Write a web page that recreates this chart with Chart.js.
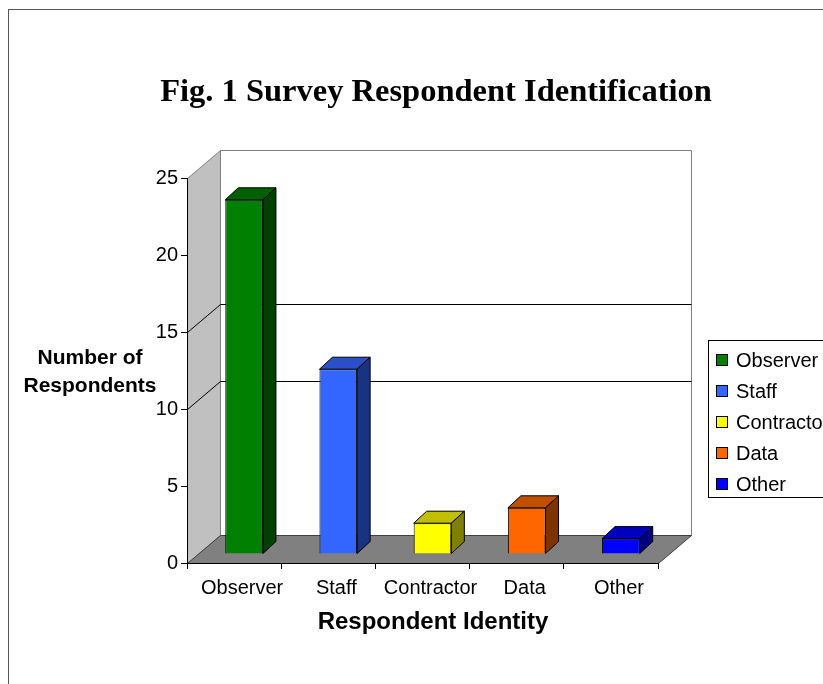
<!DOCTYPE html>
<html>
<head>
<meta charset="utf-8">
<script src="https://cdn.jsdelivr.net/npm/chart.js@4.4.1/dist/chart.umd.min.js"></script>
<style>
    html, body { margin: 0; padding: 0; background: #fff; overflow: hidden; width: 823px; height: 684px; }
    #frame { position: absolute; left: 8px; top: 9px; width: 900px; height: 720px; border: 1px solid #555; }
    #chart { position: absolute; left: 0; top: 0; }
</style>
</head>
<body>
<div id="frame"></div>
<canvas id="chart" width="872" height="684"></canvas>
<script>
// Chart data
const categories = ['Observer', 'Staff', 'Contractor', 'Data', 'Other'];
const respondents = [23, 12, 2, 3, 1];
const yTickStep = 5;
const yMax = 25;
const wallGridValues = [10, 15];

const chartTitle = 'Fig. 1 Survey Respondent Identification';
const xTitle = 'Respondent Identity';
const yTitleLines = ['Number of', 'Respondents'];

// Face colours for the 3D bars (front, top, side)
const frontColors = ['#008000', '#3366ff', '#ffff00', '#ff6600', '#0000ff'];
const topColors = ['#006000', '#2a4fc8', '#c0c000', '#c04f00', '#0000c0'];
const sideColors = ['#004000', '#1a3380', '#808000', '#803300', '#000080'];

const SANS = "'Liberation Sans', Arial, sans-serif";
const SERIF = "'Liberation Serif', 'Times New Roman', serif";

// depth of the whole plot box, and of each bar
const DEPTH = { dx: 33, dy: -28 };
const BAR_SHIFT = { dx: 10, dy: -9 };
const BAR_DEPTH = { dx: 13, dy: -12 };

function poly(ctx, pts, fill, stroke) {
    ctx.beginPath();
    ctx.moveTo(pts[0][0], pts[0][1]);
    for (let i = 1; i < pts.length; i++) ctx.lineTo(pts[i][0], pts[i][1]);
    ctx.closePath();
    if (fill) { ctx.fillStyle = fill; ctx.fill(); }
    if (stroke) { ctx.strokeStyle = stroke; ctx.lineWidth = 1; ctx.stroke(); }
}

/**
 * Walls, floor and bar sides that fake the Excel 3D look
 */
const threeD = {
    id: 'threeD',
    beforeDraw(chart) {
        const { ctx, chartArea: a, scales: { y } } = chart;
        const L = Math.round(a.left) + 0.5, R = Math.round(a.right) + 0.5;
        const T = Math.round(y.getPixelForValue(yMax)) + 0.5;
        const B = Math.round(y.getPixelForValue(0)) + 0.5;
        const { dx, dy } = DEPTH;
        ctx.save();
        // back wall
        poly(ctx, [[L + dx, T + dy], [R + dx, T + dy], [R + dx, B + dy], [L + dx, B + dy]], '#ffffff', '#808080');
        // side wall
        poly(ctx, [[L, B], [L, T], [L + dx, T + dy], [L + dx, B + dy]], '#c0c0c0', '#808080');
        // gridlines on the walls
        ctx.strokeStyle = '#000';
        ctx.lineWidth = 1;
        wallGridValues.forEach(v => {
            const py = Math.round(y.getPixelForValue(v)) + 0.5;
            ctx.beginPath();
            ctx.moveTo(L, py);
            ctx.lineTo(L + dx, py + dy);
            ctx.lineTo(R + dx, py + dy);
            ctx.stroke();
        });
        // floor
        poly(ctx, [[L, B], [R, B], [R + dx, B + dy], [L + dx, B + dy]], '#808080', '#404040');
        ctx.restore();
    },
    beforeDatasetsDraw(chart) {
        chart.ctx.save();
        chart.ctx.translate(BAR_SHIFT.dx, BAR_SHIFT.dy);
    },
    afterDatasetsDraw(chart) {
        const ctx = chart.ctx;
        ctx.restore();
        const meta = chart.getDatasetMeta(0);
        ctx.save();
        meta.data.forEach((bar, i) => {
            const p = bar.getProps(['x', 'y', 'base', 'width'], true);
            const l = p.x - p.width / 2 + BAR_SHIFT.dx;
            const r = p.x + p.width / 2 + BAR_SHIFT.dx;
            const t = p.y + BAR_SHIFT.dy;
            const b = p.base + BAR_SHIFT.dy;
            const { dx, dy } = BAR_DEPTH;
            poly(ctx, [[l, t], [r, t], [r + dx, t + dy], [l + dx, t + dy]], topColors[i], '#000');
            poly(ctx, [[r, t], [r + dx, t + dy], [r + dx, b + dy], [r, b]], sideColors[i], '#000');
        });
        ctx.restore();
    },
    afterDraw(chart) {
        const ctx = chart.ctx;
        ctx.save();
        ctx.fillStyle = '#000';
        ctx.textBaseline = 'middle';
        ctx.textAlign = 'center';

        // chart title (centred on the full Excel chart area, which runs past the window)
        ctx.font = 'bold 32.5px ' + SERIF;
        ctx.fillText(chartTitle, 436, 93);

        // axis titles
        ctx.font = 'bold 21px ' + SANS;
        yTitleLines.forEach((line, i) => ctx.fillText(line, 90, 358 + i * 28));
        ctx.font = 'bold 24px ' + SANS;
        ctx.fillText(xTitle, 433, 622);

        // legend box
        ctx.strokeStyle = '#000';
        ctx.lineWidth = 1;
        ctx.strokeRect(708.5, 340.5, 200, 157);
        ctx.textAlign = 'left';
        ctx.font = '20px ' + SANS;
        categories.forEach((name, i) => {
            const cy = 360 + i * 31;
            ctx.fillStyle = frontColors[i];
            ctx.fillRect(716.5, cy - 5.5, 11, 11);
            ctx.strokeRect(716.5, cy - 5.5, 11, 11);
            ctx.fillStyle = '#000';
            ctx.fillText(name, 736, cy + 1);
        });
        ctx.restore();
    }
};

Chart.defaults.font.family = SANS;
Chart.defaults.color = '#000';

new Chart(document.getElementById('chart').getContext('2d'), {
    type: 'bar',
    data: {
        labels: categories,
        datasets: [{
            label: 'Respondents',
            data: respondents,
            backgroundColor: frontColors,
            borderColor: '#000',
            borderWidth: 1,
            barPercentage: 0.4,
            categoryPercentage: 1
        }]
    },
    options: {
        responsive: false,
        animation: false,
        events: [],
        layout: { padding: { left: 127, right: 214, top: 178, bottom: 81 } },
        plugins: {
            legend: { display: false },
            tooltip: { enabled: false },
            title: { display: false }
        },
        scales: {
            x: {
                offset: true,
                grid: { offset: true, drawOnChartArea: false, tickLength: 6, tickColor: '#000' },
                border: { color: '#000' },
                ticks: { font: { size: 20 }, color: '#000', padding: 7, labelOffset: 8, maxRotation: 0, autoSkip: false },
                afterFit: s => { s.height = 40; }
            },
            y: {
                min: 0,
                max: yMax,
                grid: { drawOnChartArea: false, tickLength: 6, tickColor: '#000' },
                border: { color: '#000' },
                ticks: { stepSize: yTickStep, font: { size: 20 }, color: '#000', padding: 3 },
                afterFit: s => { s.width = 60; }
            }
        }
    },
    plugins: [threeD]
});
</script>
</body>
</html>
